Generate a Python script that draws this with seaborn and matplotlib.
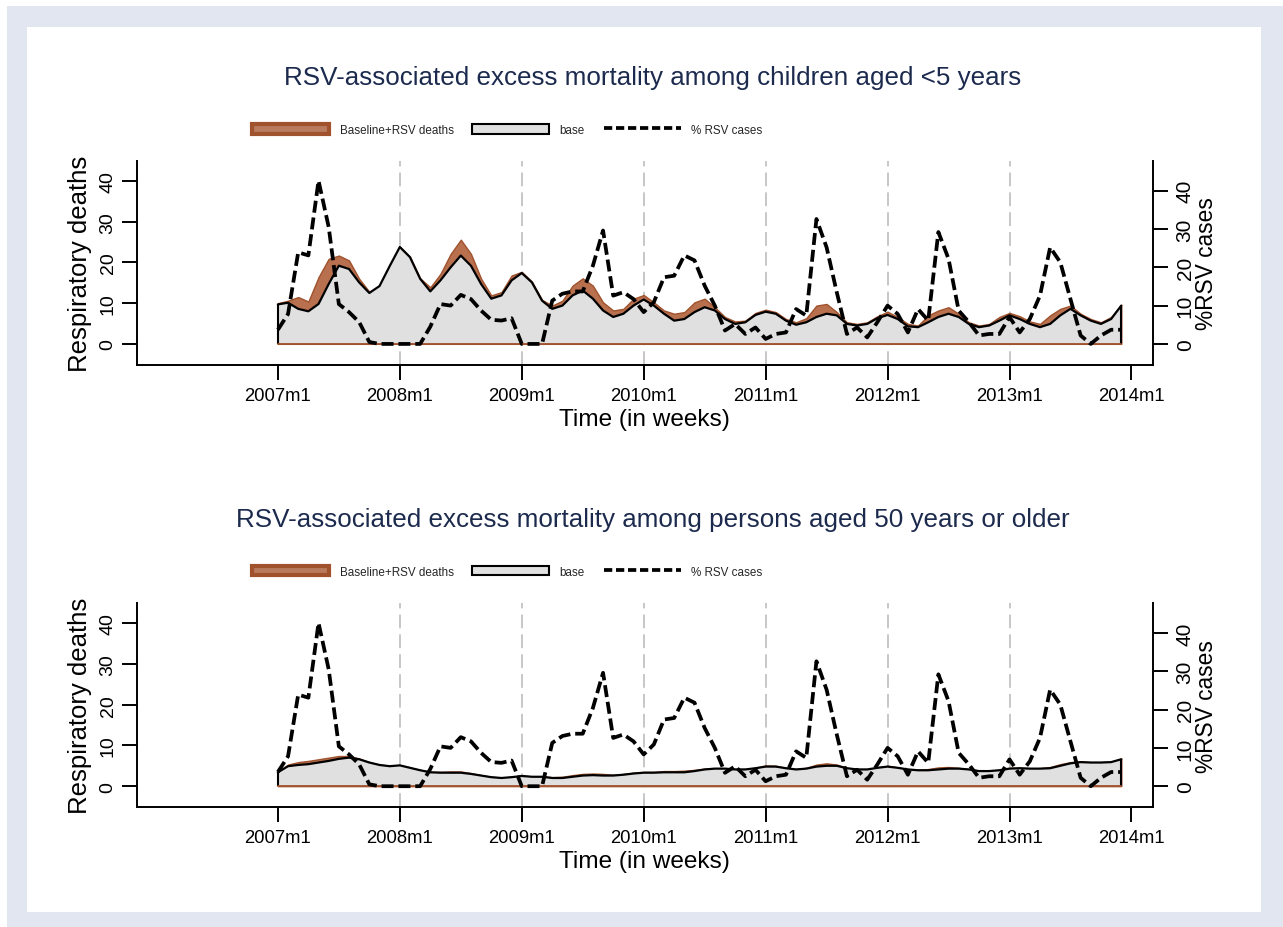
import matplotlib
matplotlib.use("Agg")
import numpy as np
import pandas as pd
import matplotlib.pyplot as plt
import seaborn as sns
from matplotlib.patches import Rectangle, Patch
from matplotlib.lines import Line2D
from matplotlib import font_manager

# monthly series, 2007m1 .. 2013m12
start_month = "2007-01"
end_month = "2013-12"

rsv_pct = [3.7, 7.8, 23.9, 23.1, 42.6, 30.5, 10.4, 8.3, 5.7, 0.5,
           0.0, 0.0, 0.0, 0.0, 0.0, 4.5, 10.4, 10.0, 12.8, 11.7,
           8.7, 6.3, 6.1, 6.7, 0.0, 0.0, 0.0, 11.3, 13.1, 13.7,
           13.7, 20.4, 29.6, 12.6, 13.5, 11.7, 8.3, 10.9, 17.4, 17.8,
           23.1, 21.8, 15.2, 10.0, 3.5, 5.2, 2.6, 4.3, 1.3, 2.6,
           3.0, 9.1, 7.4, 32.6, 25.2, 13.5, 2.6, 4.3, 1.7, 5.7,
           10.0, 7.8, 3.0, 9.1, 6.1, 29.2, 22.2, 8.7, 5.7, 2.2,
           2.6, 2.6, 7.0, 3.0, 6.5, 12.6, 25.2, 21.3, 11.7, 2.2,
           0.0, 2.2, 3.7, 3.7]

child_base = [9.7, 10.1, 8.6, 8.0, 9.8, 14.7, 19.2, 18.4, 15.1, 12.5,
              14.2, 19.1, 23.8, 21.3, 16.0, 12.9, 15.6, 18.8, 21.7, 19.2,
              14.7, 11.1, 11.9, 15.6, 17.4, 15.1, 10.6, 8.6, 9.4, 11.9,
              13.1, 11.1, 8.2, 6.6, 7.4, 9.4, 10.9, 9.4, 7.4, 5.7,
              6.1, 7.8, 9.0, 8.2, 6.1, 4.9, 5.3, 7.1, 7.9, 7.4,
              5.7, 4.7, 5.3, 6.6, 7.4, 7.0, 4.9, 4.5, 4.9, 6.3,
              7.1, 6.1, 4.3, 4.1, 5.3, 6.6, 7.4, 6.6, 4.9, 4.1,
              4.5, 5.7, 7.0, 6.1, 4.9, 4.1, 4.9, 7.0, 8.6, 7.0,
              5.7, 4.9, 6.1, 9.4]

child_total = [10.0, 10.6, 11.5, 10.4, 16.4, 20.9, 21.7, 20.5, 16.0, 12.8,
               14.3, 19.2, 23.9, 21.4, 16.1, 13.9, 17.2, 22.1, 25.6, 22.1,
               16.0, 11.9, 12.7, 16.8, 17.7, 15.3, 10.8, 9.4, 10.6, 14.3,
               16.1, 14.3, 10.2, 8.2, 8.6, 11.1, 12.0, 10.2, 8.2, 7.4,
               7.8, 10.2, 11.1, 9.0, 6.6, 5.5, 5.7, 7.6, 8.4, 7.8,
               6.1, 5.3, 6.3, 9.4, 9.8, 7.8, 5.3, 4.9, 5.3, 6.8,
               7.9, 6.6, 4.9, 4.5, 7.0, 8.2, 9.0, 7.4, 5.3, 4.5,
               4.9, 6.6, 7.6, 6.8, 5.5, 4.9, 7.0, 8.6, 9.4, 7.4,
               6.1, 5.3, 6.6, 9.6]

old_base = [3.4, 4.9, 5.2, 5.4, 5.8, 6.2, 6.7, 7.0, 6.6, 5.8,
            5.2, 4.9, 5.1, 4.5, 3.9, 3.4, 3.3, 3.3, 3.3, 3.0,
            2.6, 2.2, 2.0, 2.2, 2.5, 2.3, 2.3, 2.0, 2.0, 2.3,
            2.6, 2.7, 2.6, 2.6, 2.8, 3.1, 3.3, 3.3, 3.4, 3.4,
            3.4, 3.7, 4.1, 4.3, 4.3, 4.1, 4.1, 4.4, 4.8, 4.8,
            4.4, 4.1, 4.3, 4.8, 5.0, 5.0, 4.4, 4.1, 4.1, 4.5,
            4.8, 4.5, 4.1, 3.9, 3.9, 4.1, 4.3, 4.3, 4.1, 3.7,
            3.7, 3.9, 4.3, 4.4, 4.3, 4.3, 4.4, 5.0, 5.6, 5.9,
            5.8, 5.8, 5.9, 6.6]

old_total = [3.5, 5.3, 5.9, 6.2, 6.6, 7.0, 7.4, 7.4, 6.8, 5.9,
             5.3, 5.0, 5.2, 4.6, 4.0, 3.5, 3.5, 3.6, 3.6, 3.2,
             2.7, 2.3, 2.1, 2.3, 2.6, 2.4, 2.4, 2.2, 2.3, 2.7,
             3.0, 3.1, 3.0, 2.8, 3.0, 3.3, 3.5, 3.5, 3.7, 3.7,
             3.8, 4.0, 4.3, 4.4, 4.4, 4.2, 4.2, 4.5, 5.1, 5.0,
             4.5, 4.2, 4.5, 5.3, 5.6, 5.3, 4.5, 4.2, 4.2, 4.6,
             5.0, 4.6, 4.2, 4.0, 4.2, 4.6, 4.7, 4.5, 4.2, 3.8,
             3.8, 4.0, 4.5, 4.5, 4.4, 4.4, 4.7, 5.4, 5.9, 6.1,
             5.9, 5.9, 6.0, 6.8]

titles = ["RSV-associated excess mortality among children aged <5 years",
          "RSV-associated excess mortality among persons aged 50 years or older"]
legend_labels = ["Baseline+RSV deaths", "base", "% RSV cases"]
tick_years = [2007, 2008, 2009, 2010, 2011, 2012, 2013, 2014]
grid_years = [2008, 2009, 2010, 2011, 2012, 2013]

BROWN_FILL = "#b8704e"
BROWN_EDGE = "#a0522d"
GRAY_FILL = "#e0e0e0"
TITLE_COLOR = "#1c2a4e"
BAND = "#e1e6f0"

sns.set_theme(style="white")
plt.rcParams["font.family"] = ["Liberation Sans", "DejaVu Sans"]

names = {f.name for f in font_manager.fontManager.ttflist}
if "Liberation Sans Narrow" in names:
    legend_font = {"family": ["Liberation Sans Narrow", "Liberation Sans"], "size": 9.5}
else:
    legend_font = {"family": ["Liberation Sans", "DejaVu Sans"], "size": 8.4}

months = pd.period_range(start_month, end_month, freq="M")
first = pd.Period(start_month, freq="M")
month_idx = [(m - first).n for m in months]


def month_pos(year):
    return (pd.Period(f"{year}-01", freq="M") - first).n


def draw_panel(fig, rect, title, base, total, title_y, legend_y):
    df = pd.DataFrame({"month": month_idx, "base": base, "total": total, "rsv": rsv_pct})

    ax = fig.add_axes(rect)
    ax.set_facecolor("none")
    ax2 = ax.twinx()

    for yr in grid_years:
        ax.axvline(month_pos(yr), color="#b8b8b8", lw=1.1, dashes=(9, 4), zorder=0)

    ax.fill_between(df["month"], 0, df["total"], facecolor=BROWN_FILL,
                    edgecolor=BROWN_EDGE, lw=1.0, zorder=1)
    ax.fill_between(df["month"], 0, df["base"], facecolor=GRAY_FILL,
                    edgecolor="none", zorder=2)
    ax.plot(df["month"], df["base"], color="black", lw=1.6, zorder=3)
    ax.vlines([df["month"].iloc[0], df["month"].iloc[-1]], 0,
              [df["base"].iloc[0], df["base"].iloc[-1]], color="black", lw=1.5, zorder=3)
    ax.plot([df["month"].iloc[0], df["month"].iloc[-1]], [0, 0], color=BROWN_EDGE, lw=1.3, zorder=3)

    sns.lineplot(data=df, x="month", y="rsv", ax=ax2, color="black", lw=2.7,
                 linestyle=(0, (3.2, 1.3)), zorder=4)

    ax.set_xlim(-13.9, 86.1)
    ax.set_ylim(-5.2, 45)
    ax2.set_ylim(-5.5, 47.8)

    ticks = [month_pos(y) for y in tick_years]
    ax.set_xticks(ticks)
    ax.set_xticklabels([f"{y}m1" for y in tick_years], fontsize=13.3)
    ax.set_yticks([0, 10, 20, 30, 40])
    ax.set_yticklabels(["0", "10", "20", "30", "40"], rotation=90, va="center", fontsize=14)
    ax2.set_yticks([0, 10, 20, 30, 40])
    ax2.set_yticklabels(["0", "10", "20", "30", "40"], rotation=90, va="center", fontsize=15)

    for a in (ax, ax2):
        a.grid(False)
        for s in a.spines.values():
            s.set_visible(False)
            s.set_linewidth(1.4)
            s.set_color("black")
    ax.spines["left"].set_visible(True)
    ax.spines["bottom"].set_visible(True)
    ax2.spines["right"].set_visible(True)

    ax.tick_params(axis="both", direction="out", length=10.5, width=1.4, color="black",
                   left=True, bottom=True, labelcolor="black")
    ax.tick_params(axis="y", pad=4)
    ax.tick_params(axis="x", pad=5)
    ax2.tick_params(axis="y", direction="out", length=10.5, width=1.4, color="black",
                    right=True, pad=6, labelcolor="black")

    ax.set_xlabel("Time (in weeks)", fontsize=17.6, color="black")
    ax.xaxis.label.set_va("center")
    ax.xaxis.set_label_coords(0.5, -0.264)
    ax.set_ylabel("Respiratory deaths", fontsize=18.5, color="black")
    ax.yaxis.label.set_va("center")
    ax.yaxis.set_label_coords(-0.0558, 0.5)
    ax2.set_ylabel("%RSV cases", fontsize=16.4, color="black", rotation=90)
    ax2.yaxis.label.set_va("center")
    ax2.yaxis.set_label_coords(1.0531, 0.5)

    fig.text(653 / 1283, 1 - title_y / 928, title, ha="center", va="center",
             fontsize=18.7, color=TITLE_COLOR)

    handles = [
        Patch(facecolor="#b97b5e", edgecolor=BROWN_EDGE, linewidth=3.0),
        Patch(facecolor=GRAY_FILL, edgecolor="black", linewidth=1.5),
        Line2D([0], [0], color="black", lw=2.7, linestyle=(0, (2.2, 1.0))),
    ]
    fig.legend(handles, legend_labels, loc="center left",
               bbox_to_anchor=(252 / 1283, 1 - legend_y / 928), ncol=3,
               frameon=False, prop=legend_font, borderpad=0, borderaxespad=0,
               handlelength=6.6, handleheight=0.9, handletextpad=0.9,
               columnspacing=1.6)
    return ax, ax2


fig = plt.figure(figsize=(12.83, 9.28), dpi=100)
fig.patch.set_facecolor("white")
fig.patches.append(Rectangle((7 / 1283, 0), 1 - 7 / 1283, 1 - 7 / 928,
                             transform=fig.transFigure, facecolor=BAND,
                             edgecolor="none", zorder=-10))
fig.patches.append(Rectangle((27 / 1283, 15 / 928), (1261 - 27) / 1283, (913 - 28) / 928,
                             transform=fig.transFigure, facecolor="white",
                             edgecolor="none", zorder=-9))

draw_panel(fig, [0.1065, 0.6056, 0.792, 0.2201], titles[0], child_base, child_total, 78, 130.8)
draw_panel(fig, [0.1065, 0.129, 0.792, 0.2201], titles[1], old_base, old_total, 520, 572.5)

fig.savefig("out.png", dpi=100, facecolor=fig.get_facecolor())
